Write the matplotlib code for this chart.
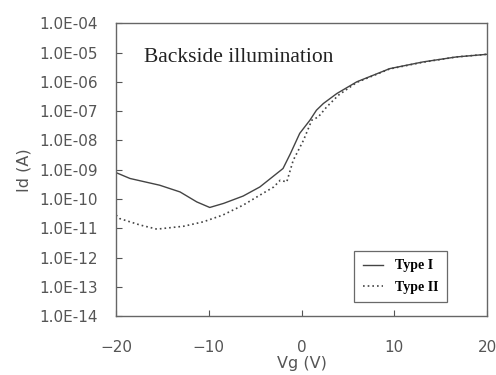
import matplotlib
matplotlib.use('Agg')
import matplotlib.pyplot as plt
from matplotlib.ticker import FixedLocator, FuncFormatter
import numpy as np

# Data (Vg in volts, log10 of Id in amps)
vg_type1 = [-20, -18.5, -15.3, -13.1, -11.3, -9.9, -8.4, -6.3, -4.5, -2.0, -1.2,
            -0.2, 0.9, 1.6, 2.35, 3.8, 5.95, 9.5, 13.1, 16.7, 20]
log_id_type1 = [-9.1, -9.3, -9.53, -9.76, -10.1, -10.29, -10.15, -9.9, -9.59, -8.96, -8.45,
                -7.76, -7.31, -6.97, -6.74, -6.4, -6.0, -5.55, -5.32, -5.15, -5.06]

vg_type2 = [-20, -19.6, -17.4, -15.6, -12.7, -10.6, -8.5, -6.3, -4.5, -3.0, -2.3,
            -1.6, -0.9, 0.2, 1.1, 1.8, 2.7, 4.0, 5.95, 9.5, 13.1, 16.7, 20]
log_id_type2 = [-10.55, -10.67, -10.89, -11.03, -10.93, -10.78, -10.55, -10.21, -9.87, -9.59, -9.36,
                -9.42, -8.68, -8.0, -7.31, -7.2, -6.86, -6.45, -6.02, -5.56, -5.33, -5.15, -5.06]

x_ticks = [-20, -10, 0, 10, 20]
y_decades = list(range(-14, -3))

id_type1 = 10 ** np.array(log_id_type1)
id_type2 = 10 ** np.array(log_id_type2)

fig = plt.figure(figsize=(4.96, 3.75), dpi=100)
ax = fig.add_axes([0.234, 0.157, 0.748, 0.781])

ax.plot(vg_type1, id_type1, color='#444444', linewidth=1.0, label='Type I')
ax.plot(vg_type2, id_type2, color='#444444', linewidth=1.2, linestyle=(0, (1, 1.8)),
        label='Type II')

ax.set_yscale('log')
ax.set_xlim(-20, 20)
ax.set_ylim(1e-14, 1e-4)

tick_color = '#555555'
ax.xaxis.set_major_locator(FixedLocator(x_ticks))
ax.yaxis.set_major_locator(FixedLocator([10.0 ** d for d in y_decades]))
ax.yaxis.set_minor_locator(FixedLocator([]))
ax.yaxis.set_major_formatter(FuncFormatter(lambda v, p: '1.0E%+03d' % round(np.log10(v))))
ax.tick_params(direction='in', length=4, width=0.8, color=tick_color,
               labelcolor=tick_color, labelsize=11)
ax.tick_params(axis='y', pad=13)
ax.tick_params(axis='x', pad=17)

for spine in ax.spines.values():
    spine.set_color('#666666')
    spine.set_linewidth(1.0)

ax.set_xlabel('Vg (V)', color=tick_color, fontsize=11.5, labelpad=1)
ax.set_ylabel('Id (A)', color=tick_color, fontsize=11.5, labelpad=6)

ax.text(-17.0, 10 ** -5.17, 'Backside illumination', family='Liberation Serif',
        fontsize=15.5, va='center', ha='left', color='#222222')

leg = ax.legend(loc='lower right', bbox_to_anchor=(0.892, 0.048), borderaxespad=0,
                prop={'family': 'Liberation Serif', 'weight': 'bold', 'size': 10},
                frameon=True, fancybox=False, handlelength=1.5, handletextpad=0.85,
                borderpad=0.6, labelspacing=0.6)
leg.get_frame().set_edgecolor('#444444')
leg.get_frame().set_linewidth(0.9)

plt.savefig('out.png', dpi=100)
plt.close()
